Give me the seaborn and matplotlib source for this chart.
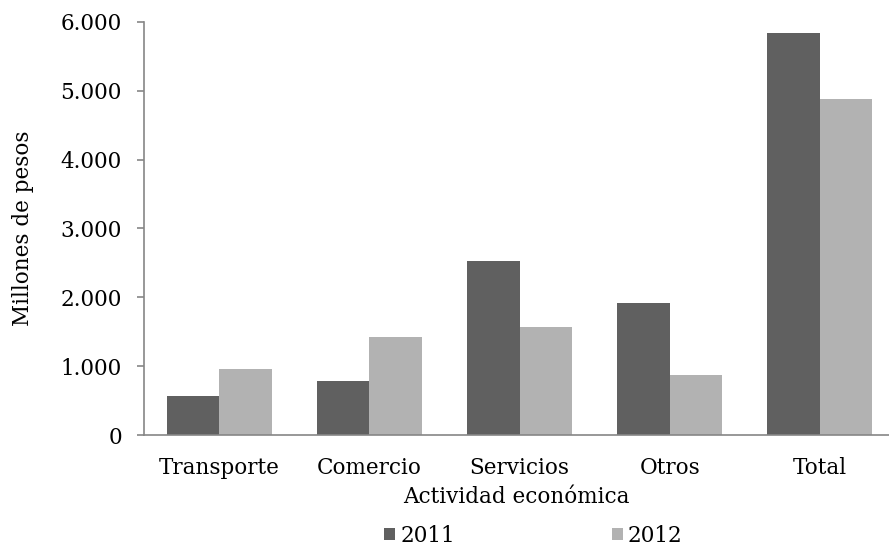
import matplotlib
matplotlib.use("Agg")
import matplotlib.pyplot as plt
import seaborn as sns
import pandas as pd
from matplotlib.patches import Patch

categories = ["Transporte", "Comercio", "Servicios", "Otros", "Total"]
years = ["2011", "2012"]
values_2011 = [560, 790, 2525, 1920, 5836]
values_2012 = [965, 1425, 1570, 877, 4880]
yticks = [0, 1000, 2000, 3000, 4000, 5000, 6000]
ytick_labels = ["0", "1.000", "2.000", "3.000", "4.000", "5.000", "6.000"]
colors = ["#606060", "#b2b2b2"]

df = pd.DataFrame({
    "Actividad": categories * 2,
    "Año": [years[0]] * 5 + [years[1]] * 5,
    "Valor": values_2011 + values_2012,
})

sns.set_style("white")
plt.rcParams["font.family"] = ["DejaVu Serif"]
plt.rcParams["text.color"] = "black"
plt.rcParams["xtick.color"] = "black"
plt.rcParams["ytick.color"] = "black"
plt.rcParams["axes.labelcolor"] = "black"

fs = 15.5

fig = plt.figure(figsize=(8.89, 5.48), dpi=100)
ax = fig.add_axes([144 / 889, 1 - 435 / 548, 1 - 144 / 889, (435 - 22) / 548])

sns.barplot(data=df, x="Actividad", y="Valor", hue="Año", palette=colors,
            width=0.7, ax=ax, legend=False, saturation=1,
            edgecolor="none", linewidth=0)

ax.set_xlim(-0.5, 4.5 - 6 / 150)
ax.set_ylim(0, 6000)
ax.set_yticks(yticks)
ax.set_yticklabels(ytick_labels, fontsize=fs)
ax.tick_params(axis="x", length=0, labelsize=fs, pad=16)
ax.tick_params(axis="y", length=5, width=1.2, color="#868686", direction="out", pad=11, left=True)
ax.set_xlabel("Actividad económica", fontsize=fs, labelpad=5)
ax.set_ylabel("Millones de pesos", fontsize=fs, labelpad=19)

for s in ["top", "right"]:
    ax.spines[s].set_visible(False)
for s in ["left", "bottom"]:
    ax.spines[s].set_color("#868686")
    ax.spines[s].set_linewidth(1.2)

handles = [Patch(facecolor=c, edgecolor="none") for c in colors]
fig.legend(handles, years, loc="center", bbox_to_anchor=(0.6, 0.022), ncol=2,
           frameon=False, fontsize=fs, handlelength=0.5, handleheight=0.5,
           handletextpad=0.25, columnspacing=7.3, borderpad=0)

fig.savefig("out.png", dpi=100)
